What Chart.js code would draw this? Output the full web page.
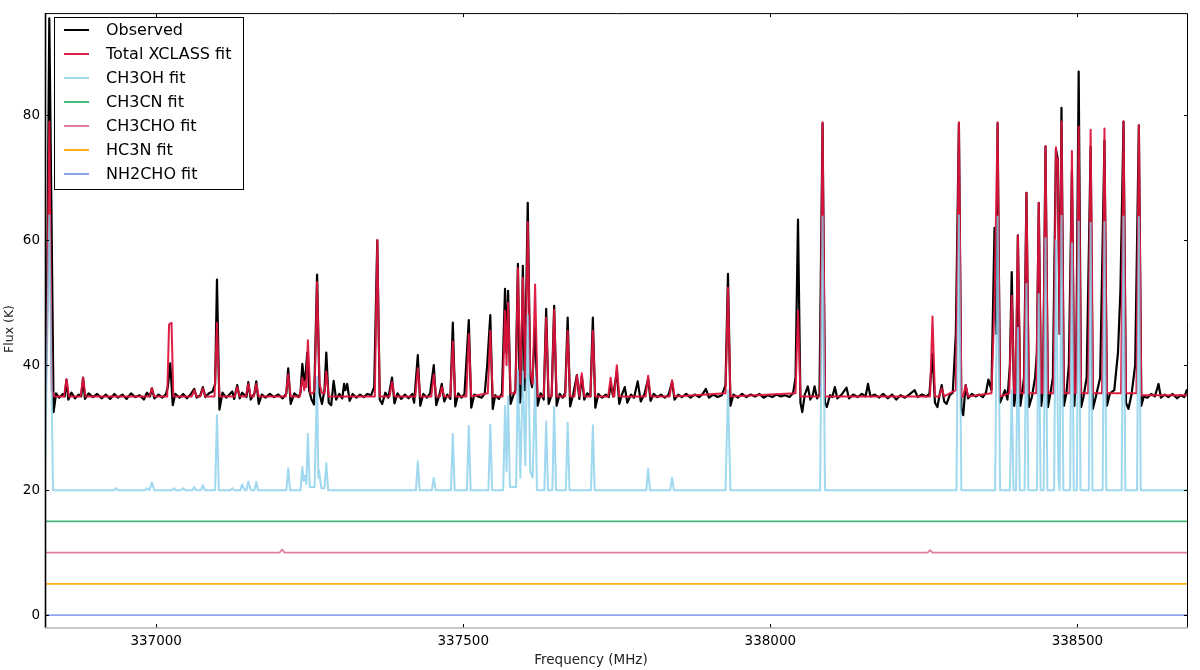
<!DOCTYPE html>
<html><head><meta charset="utf-8">
<script src="https://cdn.jsdelivr.net/npm/chart.js@4.4.0/dist/chart.umd.min.js"></script>
<style>html,body{margin:0;padding:0;background:#fff;}#wrap{width:1200px;height:670px;position:relative;}</style>
</head><body><div id="wrap"><canvas id="c" width="1200" height="670"></canvas></div>
<script>
const xTicks = [337000, 337500, 338000, 338500];
const yTicks = [0, 20, 40, 60, 80];
const xTitle = 'Frequency (MHz)';
const yTitle = 'Flux (K)';
const seriesNames = ['Observed','Total XCLASS fit','CH3OH fit','CH3CN fit','CH3CHO fit','HC3N fit','NH2CHO fit'];

const observed = [
[336819,37],[336822,46],[336826,95.5],[336830,60],[336833,32.5],[336837,35.5],[336842,34.8],[336848,35.4],[336851,35],
[336854,37.6],[336857,34.5],[336862,35.6],[336868,34.7],[336874,35.3],[336878,35],[336881,38],[336884,34.6],[336890,35.5],
[336897,34.9],[336904,35.4],[336911,34.7],[336918,35.3],[336925,34.6],[336932,35.4],[336938,34.8],[336945,35.3],[336952,34.6],
[336959,35.5],[336966,34.9],[336973,35.2],[336980,34.5],[336985,35.6],[336990,35],[336993,36.3],[336997,34.7],[337004,35.3],
[337010,34.8],[337016,35.4],[337019,36.5],[337023,40.3],[337027,33.6],[337031,35.4],[337038,34.8],[337044,35.4],[337050,34.7],
[337056,35.3],[337062,36.2],[337066,34.8],[337072,35.2],[337076,36.5],[337080,34.9],[337086,35.5],[337092,35.8],[337096,37],
[337099,53.7],[337103,32.9],[337108,35.6],[337114,34.8],[337120,35.4],[337124,35.8],[337127,34.6],[337132,36.8],[337136,34.7],
[337140,35.6],[337147,34.9],[337150,37.3],[337154,34.5],[337160,35.5],[337163,37.4],[337167,33.8],[337172,35.3],[337178,34.8],
[337185,35.4],[337192,34.9],[337199,35.3],[337206,34.7],[337212,35.5],[337215,39.5],[337219,33.8],[337225,35.5],[337232,34.9],
[337235,35.6],[337238,40.2],[337241,37.5],[337243,38],[337246,42],[337249,36],[337253,34.5],[337257,33.7],[337262,54.5],
[337266,35.5],[337270,33.8],[337274,36],[337277,42],[337281,34],[337285,33.6],[337289,37.5],[337293,34.5],[337298,35.4],
[337303,34.7],[337306,37],[337308,36],[337311,37],[337315,34.3],[337320,35.4],[337326,34.8],[337332,35.3],[337338,34.9],
[337344,35.4],[337350,35.2],[337355,36.5],[337360,60],[337364,34.5],[337368,33.8],[337373,35.6],[337378,34.8],[337384,38],
[337388,33.9],[337393,35.5],[337399,34.6],[337405,35.3],[337411,34.7],[337417,35.4],[337420,34],[337426,41.6],[337430,33.5],
[337435,35.4],[337441,34.8],[337446,35.5],[337452,40],[337456,33.6],[337461,35.2],[337465,37],[337469,34.2],[337474,35.3],
[337479,34.6],[337483,46.8],[337487,33.4],[337492,35.5],[337497,34.8],[337502,35.4],[337509,47.2],[337513,33.2],[337518,35.3],
[337524,35],[337530,34.8],[337535,35.5],[337539,40],[337544,48],[337548,33],[337552,35.2],[337558,34.6],[337563,35.5],
[337568,52.2],[337570,42],[337573,51.9],[337577,33.8],[337581,35],[337585,36],[337589,56.2],[337592,34],[337594,35],
[337597,55.9],[337600,36],[337605,66],[337609,38],[337612,36.5],[337617,46],[337621,33.5],[337626,35.5],[337631,34.5],
[337635,49],[337639,33.8],[337644,35.3],[337648,49.5],[337652,33.5],[337657,35.4],[337662,34.8],[337666,35.6],[337670,47.6],
[337674,33.4],[337679,35.3],[337685,38.4],[337689,34.6],[337693,38.2],[337697,34.5],[337702,35.5],[337707,35],[337711,47.6],
[337715,33.2],[337720,35.4],[337726,34.8],[337732,35.3],[337737,34.9],[337740,37],[337744,35],[337750,39],[337754,33.8],
[337758,35.2],[337763,36.5],[337767,34],[337773,35.3],[337778,34.8],[337784,37.4],[337789,34.2],[337795,35.4],[337801,37.8],
[337805,34.3],[337810,35.4],[337816,34.9],[337822,35.3],[337828,34.8],[337834,35.2],[337840,37.3],[337844,34.5],[337850,35.3],
[337856,34.9],[337863,35.4],[337870,34.8],[337877,35.3],[337884,34.9],[337890,35.4],[337895,36.2],[337900,34.8],[337907,35.3],
[337914,34.9],[337921,35.2],[337927,36.8],[337931,54.6],[337935,33.5],[337940,35.3],[337947,34.8],[337954,35.4],[337961,34.9],
[337968,35.3],[337975,35],[337982,35.4],[337989,34.8],[337996,35.2],[338003,34.9],[338010,35.3],[338017,35],[338024,35.2],
[338031,34.9],[338037,35.5],[338041,38],[338045,63.3],[338049,34],[338052,32.5],[338056,35.3],[338061,36.6],[338065,34.5],
[338069,35.2],[338072,36.6],[338076,34.7],[338080,35.3],[338085,78.7],[338089,34],[338092,33.3],[338097,35.2],[338101,34.9],
[338105,36.5],[338109,34.7],[338116,35.3],[338124,36.4],[338128,34.7],[338135,35.3],[338142,34.9],[338149,35.4],[338155,35],
[338159,37],[338163,35],[338170,35.3],[338177,34.8],[338184,35.4],[338191,34.7],[338198,35.3],[338205,34.5],[338212,35.2],
[338219,34.8],[338226,35.3],[338235,36],[338240,34.9],[338247,35.3],[338254,35],[338259,35.4],[338264,41.8],[338268,34],
[338272,33.3],[338276,35.5],[338279,36.8],[338283,34.2],[338287,33.8],[338292,35.2],[338297,35.6],[338302,45],[338307,78.7],
[338311,33],[338314,32],[338318,36.8],[338322,34.7],[338328,35.4],[338334,35],[338340,35.3],[338346,34.9],[338351,35.6],
[338355,37.7],[338360,36],[338365,62],[338368,45],[338370,78.7],[338374,34],[338378,35],[338382,36],[338386,34.5],[338390,40],
[338393,54.9],[338397,33.5],[338400,36],[338403,60.8],[338407,33.5],[338410,35.5],[338413,38],[338417,67.6],[338421,33.3],
[338426,35],[338431,38],[338434,42],[338437,66],[338441,33.5],[338444,36],[338448,75],[338452,33.3],[338456,35.5],[338460,38],
[338465,74.5],[338468,73],[338471,45],[338474,81.2],[338478,33.5],[338482,35.5],[338486,40],[338491,71],[338495,33.5],
[338498,40],[338502,87],[338506,33.3],[338510,35],[338515,38],[338521.5,75],[338525,33],[338530,35],[338537,38],[338544,76],
[338548,33.5],[338553,35.5],[338560,36],[338566,42],[338570,52],[338575,79],[338579,34],[338583,33],[338588,35.3],[338594,40],
[338600,78.4],[338604,33.5],[338608,35],[338614,34.8],[338620,35.4],[338626,35],[338632,37],[338636,34.8],[338642,35.3],
[338648,34.9],[338655,35.4],[338662,34.7],[338668,35.2],[338674,34.9],[338678,36],[338680,35.5]
];

const totalFit = [
[336819,35.3],[336822,42],[336826,79],[336830,36],[336834,35],[336850,35],[336854,37.8],[336858,35],[336877,35],[336881,38],
[336885,35],[336989,35],[336993,36.3],[336997,35],[337018,35],[337021,46.5],[337025,46.8],[337028,35],[337058,35],[337062,36],
[337066,35],[337072,35],[337076,36.3],[337080,35],[337095,35],[337099,46.8],[337103,35],[337128,35],[337132,36.5],[337136,35],
[337146,35],[337150,37],[337154,35],[337159,35],[337163,37],[337167,35],[337211,35],[337215,38.5],[337219,35],[337234,35],
[337238,38],[337241,36],[337243,37.5],[337244.5,36.5],[337247,44],[337251,35.5],[337255,35.5],[337258,36],[337262,53.3],
[337266,37],[337270,35.5],[337274,35.5],[337277,39],[337281,35],[337356,35],[337360,60],[337364,35],[337380,35],[337384,37.3],
[337388,35],[337422,35],[337426,39.5],[337430,35],[337448,35],[337452,38.5],[337456,35],[337462,35],[337465,36.5],[337469,35],
[337479,35],[337483,43.8],[337487,35],[337505,35],[337509,45],[337513,35],[337540,35.5],[337544,45.5],[337548,35],[337564,35],
[337568,48.7],[337570.5,40],[337573,50],[337577,35.5],[337585,35.5],[337589,55.5],[337593,37],[337597,54],[337601,38],
[337605,62.9],[337609,39],[337613,37],[337617,52.9],[337621,35],[337631,35],[337635,47.6],[337639,35],[337644,35],[337648,48.9],
[337652,35],[337666,35],[337670,45.5],[337674,35],[337681,35],[337685,38.4],[337689,35],[337693,38.7],[337697,35],[337707,35],
[337711,45.5],[337715,35],[337736,35],[337740,38],[337744,35],[337746,35],[337750,40],[337754,35],[337797,35],[337801,38.3],
[337805,35],[337836,35],[337840,37.6],[337844,35],[337927,35.5],[337931,52.4],[337935,35],[338041,35.5],[338045,48.7],
[338049,35],[338081,35],[338085,78.9],[338089,35],[338260,35],[338264,47.8],[338268,35],[338275,35],[338279,36.3],[338283,35],
[338302,36],[338307,78.9],[338311,35],[338314,35],[338318,36.8],[338322,35],[338360,35.5],[338365,50],[338370,78.9],[338374,35],
[338389,35.5],[338393,51.1],[338397,35.5],[338399,35.5],[338403,60.8],[338407,35.5],[338413,35.5],[338417,67.6],[338421,35.5],
[338433,35.5],[338437,66],[338441,35.5],[338444,35.5],[338448,75.1],[338452,35.5],[338461,35.5],[338465,74.9],[338466.5,72],
[338468,73],[338471,45],[338474,79],[338478,35.5],[338487,35.5],[338491,74.3],[338495,35.5],[338498,35.5],[338502,78.2],
[338506,35.5],[338517.5,35.5],[338521.5,77.7],[338525.5,35.5],[338540,35.5],[338544,77.9],[338548,35.5],[338571,35.5],
[338575,79],[338579,35.5],[338596,35.5],[338600,78.4],[338604,35.2],[338680,35.2]
];

const ch3ohFit = [
[336819,22],[336826,64],[336832,20],[336932,20],[336935,20.3],[336938,20],[336982,20],[336985,20.3],[336989,20],[336993,21.2],
[336997,20],[337026,20],[337029,20.3],[337032,20],[337041,20],[337044,20.3],[337047,20],[337059,20],[337062,20.5],[337065,20],
[337073,20],[337076,20.8],[337079,20],[337096,20],[337099,32],[337102,20],[337121,20],[337124,20.3],[337127,20],[337137,20],
[337140,20.9],[337144,20],[337147,20],[337150,21.4],[337154,20],[337160,20],[337163,21.3],[337166,20],[337212,20],[337215,23.5],
[337218,20],[337235,20],[337238,23.7],[337240,21.5],[337242,22.3],[337244.5,21],[337247,29],[337250,20.5],[337258,20.5],
[337262,38.1],[337264,22],[337265,23.2],[337269,20.3],[337274,20.3],[337277,24.3],[337280,20],[337423,20],[337426,24.6],
[337429,20],[337449,20],[337452,22],[337455,20],[337480,20],[337483,29],[337486,20],[337506,20],[337509,30.3],[337512,20],
[337541,20],[337544,30.5],[337547,20],[337565,20],[337568,33.5],[337570.5,23],[337573,35],[337576,20.5],[337586,20.5],
[337589,39.2],[337593,22],[337597,39],[337601,24],[337605,48],[337609,23],[337613,22],[337617,38],[337620,20],[337632,20],
[337635,31],[337638,20],[337645,20],[337648,33.3],[337651,20],[337667,20],[337670,30.8],[337673,20],[337708,20],[337711,30.4],
[337714,20],[337798,20],[337801,23.4],[337804,20],[337837,20],[337840,22],[337843,20],[337927,20],[337931,36],[337935,20],
[338081,20],[338085,63.8],[338089,20],[338303,20],[338307,64],[338311,20],[338366,20],[338370,63.8],[338374,20],[338390,20],
[338393,36],[338396,20],[338400,20],[338403,46],[338406,20],[338414,20],[338417,53],[338420,20],[338434,20],[338437,51.4],
[338440,20],[338445,20],[338448,60.3],[338451,20],[338462,20],[338465,60],[338469,22],[338471,20],[338474,63.9],[338477,20],
[338488,20],[338491,59.5],[338494,20],[338499,20],[338502,63],[338505,20],[338518.5,20],[338521.5,62.8],[338524.5,20],
[338541,20],[338544,62.9],[338547,20],[338572,20],[338575,63.8],[338578,20],[338597,20],[338600,63.7],[338603,20],[338680,20]
];

const ch3cnFit = [[336819,15],[338680,15]];
const ch3choFit = [[336819,10],[337201,10],[337205,10.5],[337209,10],[338256,10],[338260,10.4],[338264,10],[338680,10]];
const hc3nFit = [[336819,5],[338680,5]];
const nh2choFit = [[336819,0],[338680,0]];

const seriesData = [observed, totalFit, ch3ohFit, ch3cnFit, ch3choFit, hc3nFit, nh2choFit];
const seriesColors = ['#000000','rgba(220,20,60,0.95)','rgba(135,206,235,0.8)','#46b878','rgba(219,112,147,0.9)','rgba(255,165,0,0.9)','rgba(65,105,225,0.6)'];
const seriesWidths = [2.2, 2, 2, 1.6, 1.7, 1.8, 1.8];
const seriesOrder = [10, 9, 8, 4, 3, 2, 1];

const FONT = "'DejaVu Sans', 'Liberation Sans', sans-serif";

const framePlugin = {
  id: 'frame',
  afterDatasetsDraw(chart) {
    const {ctx, chartArea: {left, right, top, bottom}, scales: {x, y}} = chart;
    ctx.save();
    ctx.strokeStyle = '#000'; ctx.lineWidth = 1;
    xTicks.forEach(v => {
      const px = Math.round(x.getPixelForValue(v)) + 0.5;
      ctx.beginPath(); ctx.moveTo(px, bottom); ctx.lineTo(px, bottom - 4);
      ctx.moveTo(px, top); ctx.lineTo(px, top + 4); ctx.stroke();
    });
    yTicks.forEach(v => {
      const py = Math.round(y.getPixelForValue(v)) + 0.5;
      ctx.beginPath(); ctx.moveTo(left, py); ctx.lineTo(left + 4, py);
      ctx.moveTo(right, py); ctx.lineTo(right - 4, py); ctx.stroke();
    });
    ctx.lineWidth = 1;
    ctx.beginPath(); ctx.moveTo(left, top + 0.5); ctx.lineTo(right - 0.5, top + 0.5); ctx.lineTo(right - 0.5, bottom); ctx.stroke();
    ctx.lineWidth = 1.6;
    ctx.beginPath(); ctx.moveTo(left + 0.5, top); ctx.lineTo(left + 0.5, bottom); ctx.stroke();
    ctx.strokeStyle = '#b4b4b4'; ctx.lineWidth = 1.5;
    ctx.beginPath(); ctx.moveTo(left, bottom); ctx.lineTo(right, bottom); ctx.stroke();
    // axis titles
    ctx.fillStyle = '#222';
    ctx.font = '13.5px ' + FONT;
    ctx.textAlign = 'center'; ctx.textBaseline = 'middle';
    ctx.fillText(xTitle, 591, 660);
    ctx.save();
    ctx.translate(10, 329); ctx.rotate(-Math.PI / 2);
    ctx.font = '12.5px ' + FONT;
    ctx.fillText(yTitle, 0, 0);
    ctx.restore();
    ctx.restore();
  }
};

const legendPlugin = {
  id: 'boxLegend',
  afterDraw(chart) {
    const ctx = chart.ctx;
    ctx.save();
    const bx = 54.5, by = 17.5, bw = 189, bh = 172;
    ctx.fillStyle = '#fff'; ctx.fillRect(bx, by, bw, bh);
    ctx.strokeStyle = '#000'; ctx.lineWidth = 1; ctx.strokeRect(bx, by, bw, bh);
    ctx.font = '16px ' + FONT; ctx.textBaseline = 'middle'; ctx.fillStyle = '#000';
    seriesNames.forEach((name, i) => {
      const yy = 30 + i * 24;
      ctx.strokeStyle = seriesColors[i]; ctx.lineWidth = 2;
      ctx.beginPath(); ctx.moveTo(64, yy); ctx.lineTo(89, yy); ctx.stroke();
      ctx.fillStyle = '#000';
      ctx.fillText(name, 106, yy + 1);
    });
    ctx.restore();
  }
};

new Chart(document.getElementById('c'), {
  type: 'line',
  data: {
    datasets: seriesNames.map((name, i) => ({
      label: name,
      data: seriesData[i],
      borderColor: seriesColors[i],
      backgroundColor: seriesColors[i],
      borderWidth: seriesWidths[i],
      borderJoinStyle: 'round',
      borderCapStyle: 'round',
      pointRadius: 0,
      fill: false,
      tension: 0,
      order: seriesOrder[i]
    }))
  },
  options: {
    responsive: false,
    animation: false,
    devicePixelRatio: 1,
    layout: {padding: {left: 0, right: 12, top: 8, bottom: 0}},
    plugins: {legend: {display: false}, tooltip: {enabled: false}},
    scales: {
      x: {
        type: 'linear', min: 336819, max: 338680,
        afterBuildTicks: s => { s.ticks = xTicks.map(v => ({value: v})); },
        afterFit: s => { s.height = 42; },
        ticks: {callback: v => String(v), font: {family: FONT, size: 13.5}, color: '#000', padding: 5, maxRotation: 0, autoSkip: false},
        grid: {display: false, drawTicks: false},
        border: {display: false},
        title: {display: false}
      },
      y: {
        type: 'linear', min: -2.06, max: 96.35,
        afterBuildTicks: s => { s.ticks = yTicks.map(v => ({value: v})); },
        afterFit: s => { s.width = 45; },
        ticks: {callback: v => String(v), font: {family: FONT, size: 13.5}, color: '#000', padding: 5},
        grid: {display: false, drawTicks: false},
        border: {display: false},
        title: {display: false}
      }
    }
  },
  plugins: [framePlugin, legendPlugin]
});
</script>
</body></html>
